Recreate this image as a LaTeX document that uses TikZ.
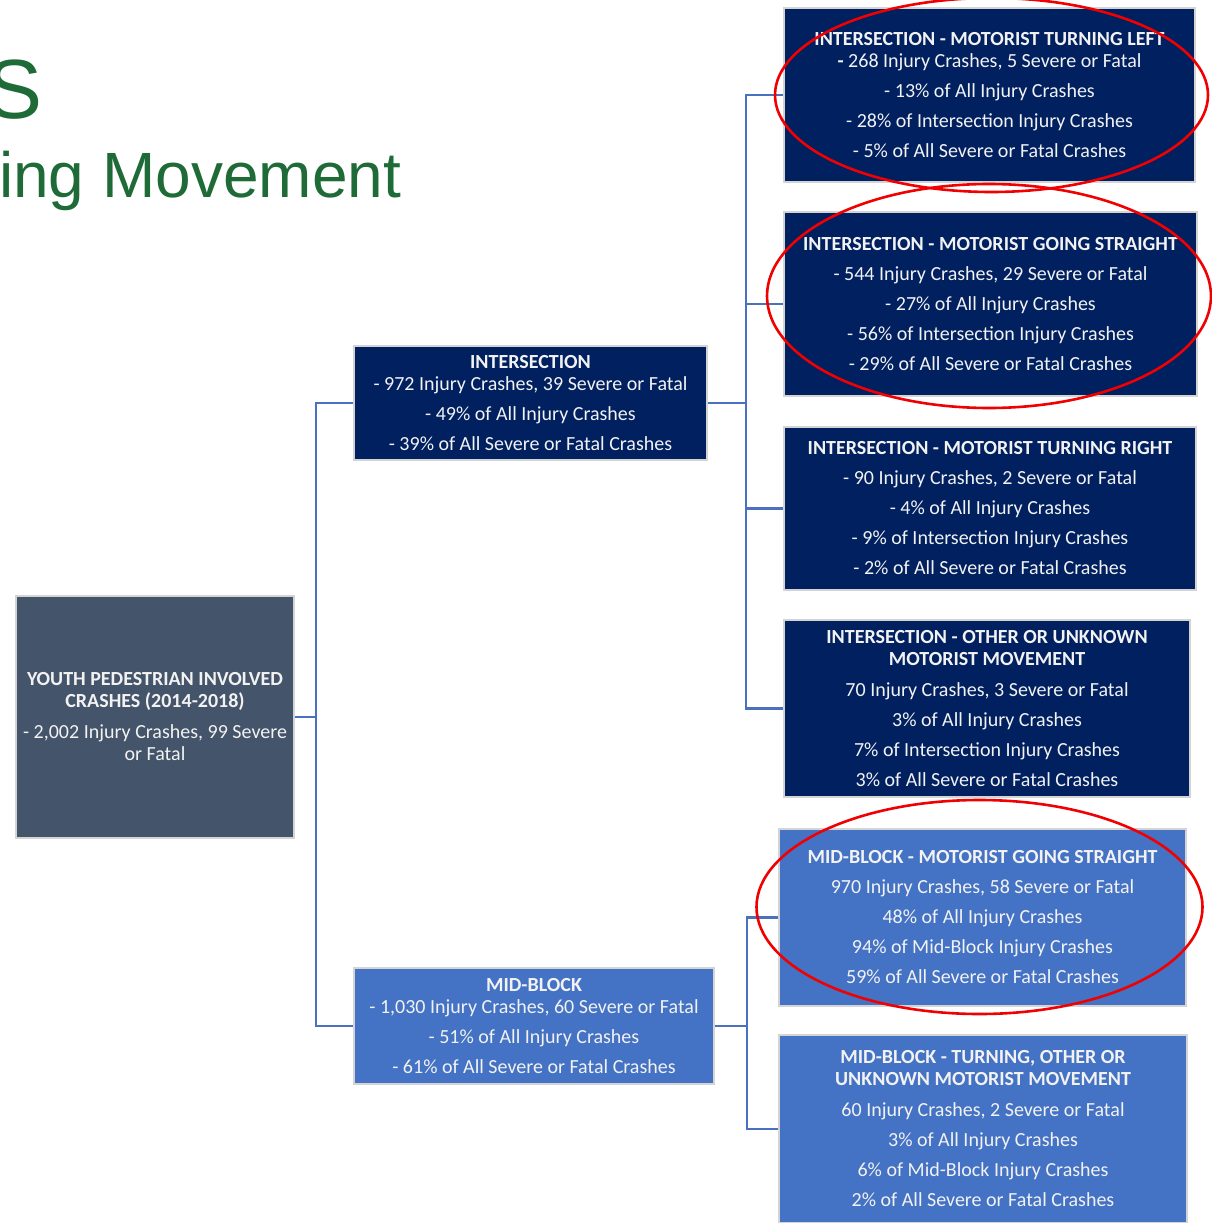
\documentclass[tikz,border=0pt]{standalone}
\usepackage{fontspec}
\setmainfont{Carlito}
\newfontfamily\titlefont{Liberation Sans}
\definecolor{rootfill}{HTML}{44546A}
\definecolor{navyfill}{HTML}{002060}
\definecolor{midfill}{HTML}{4472C4}
\definecolor{boxline}{HTML}{D4D4D4}
\definecolor{connline}{HTML}{4A70BE}
\definecolor{titlegreen}{HTML}{1F6B38}
\definecolor{boxtext}{HTML}{F2F2F2}
\definecolor{ringred}{HTML}{F00000}
\begin{document}
\begin{tikzpicture}[x=1pt,y=-1pt,
  box/.style={draw=boxline, line width=1.3pt, text=boxtext, inner sep=0pt, align=center,
    font=\fontsize{20}{22}\selectfont},
  rootbox/.style={box, fill=rootfill},
  navybox/.style={box, fill=navyfill},
  midbox/.style={box, fill=midfill},
  conn/.style={draw=connline, line width=2.2pt},
  ring/.style={draw=ringred, line width=2.6pt},
  titletext/.style={text=titlegreen, inner sep=0pt, anchor=base west}
]
\useasboundingbox (0,0) rectangle (1212,1223);

% title fragments
\node[titletext, font=\titlefont\fontsize{84}{90}\selectfont] (tS) at (-14,118) {S};
\node[titletext, font=\titlefont\fontsize{64}{70}\selectfont] (tM) at (-1,197) {ing Movement};

% boxes
\node[rootbox, minimum width=278, minimum height=242] (root) at (155,717)
  {\textbf{YOUTH PEDESTRIAN INVOLVED}\\\textbf{CRASHES (2014-2018)}\\[9pt]- 2,002 Injury Crashes, 99 Severe\\or Fatal};

\node[navybox, minimum width=353, minimum height=114] (inter) at (530.5,403)
  {\textbf{INTERSECTION}\\- 972 Injury Crashes, 39 Severe or Fatal\\[8pt]- 49\% of All Injury Crashes\\[8pt]- 39\% of All Severe or Fatal Crashes};

\node[midbox, minimum width=360, minimum height=116] (mid) at (534,1026)
  {\textbf{MID-BLOCK}\\- 1,030 Injury Crashes, 60 Severe or Fatal\\[8pt]- 51\% of All Injury Crashes\\[8pt]- 61\% of All Severe or Fatal Crashes};

\node[navybox, minimum width=411, minimum height=174] (itl) at (989.5,95)
  {\textbf{INTERSECTION - MOTORIST TURNING LEFT}\\\textbf{-} 268 Injury Crashes, 5 Severe or Fatal\\[8pt]- 13\% of All Injury Crashes\\[8pt]- 28\% of Intersection Injury Crashes\\[8pt]- 5\% of All Severe or Fatal Crashes};

\node[navybox, minimum width=413, minimum height=184] (its) at (990.5,304)
  {\textbf{INTERSECTION - MOTORIST GOING STRAIGHT}\\[8pt]- 544 Injury Crashes, 29 Severe or Fatal\\[8pt]- 27\% of All Injury Crashes\\[8pt]- 56\% of Intersection Injury Crashes\\[8pt]- 29\% of All Severe or Fatal Crashes};

\node[navybox, minimum width=412, minimum height=163] (itr) at (990,508.5)
  {\textbf{INTERSECTION - MOTORIST TURNING RIGHT}\\[8pt]- 90 Injury Crashes, 2 Severe or Fatal\\[8pt]- 4\% of All Injury Crashes\\[8pt]- 9\% of Intersection Injury Crashes\\[8pt]- 2\% of All Severe or Fatal Crashes};

\node[navybox, minimum width=406, minimum height=177] (ito) at (987,708.5)
  {\textbf{INTERSECTION - OTHER OR UNKNOWN}\\\textbf{MOTORIST MOVEMENT}\\[9pt]70 Injury Crashes, 3 Severe or Fatal\\[8pt]3\% of All Injury Crashes\\[8pt]7\% of Intersection Injury Crashes\\[8pt]3\% of All Severe or Fatal Crashes};

\node[midbox, minimum width=407, minimum height=177] (mbs) at (982.5,917.5)
  {\textbf{MID-BLOCK - MOTORIST GOING STRAIGHT}\\[8pt]970 Injury Crashes, 58 Severe or Fatal\\[8pt]48\% of All Injury Crashes\\[8pt]94\% of Mid-Block Injury Crashes\\[8pt]59\% of All Severe or Fatal Crashes};

\node[midbox, minimum width=408, minimum height=188] (mbt) at (983,1129)
  {\textbf{MID-BLOCK - TURNING, OTHER OR}\\\textbf{UNKNOWN MOTORIST MOVEMENT}\\[9pt]60 Injury Crashes, 2 Severe or Fatal\\[8pt]3\% of All Injury Crashes\\[8pt]6\% of Mid-Block Injury Crashes\\[8pt]2\% of All Severe or Fatal Crashes};

% connectors
\coordinate (j1) at (316,717);
\coordinate (j2) at (746,403);
\coordinate (j3) at (747,1026);
\draw[conn] (root.east) -- (j1);
\draw[conn] (j1) |- (inter.west);
\draw[conn] (j1) |- (mid.west);
\draw[conn] (inter.east) -- (j2);
\draw[conn] (j2) |- (itl.west);
\draw[conn] (j2) |- (its.west);
\draw[conn] (j2) |- (itr.west);
\draw[conn] (j2) |- (ito.west);
\draw[conn] (mid.east) -- (j3);
\draw[conn] (j3) |- (mbs.west);
\draw[conn] (j3) |- (mbt.west);

% red highlight rings
\draw[ring] (991.5,95) ellipse [x radius=216.5, y radius=97];
\draw[ring] (989,296) ellipse [x radius=222, y radius=112];
\draw[ring] (979.5,907) ellipse [x radius=223, y radius=107];
\end{tikzpicture}
\end{document}
